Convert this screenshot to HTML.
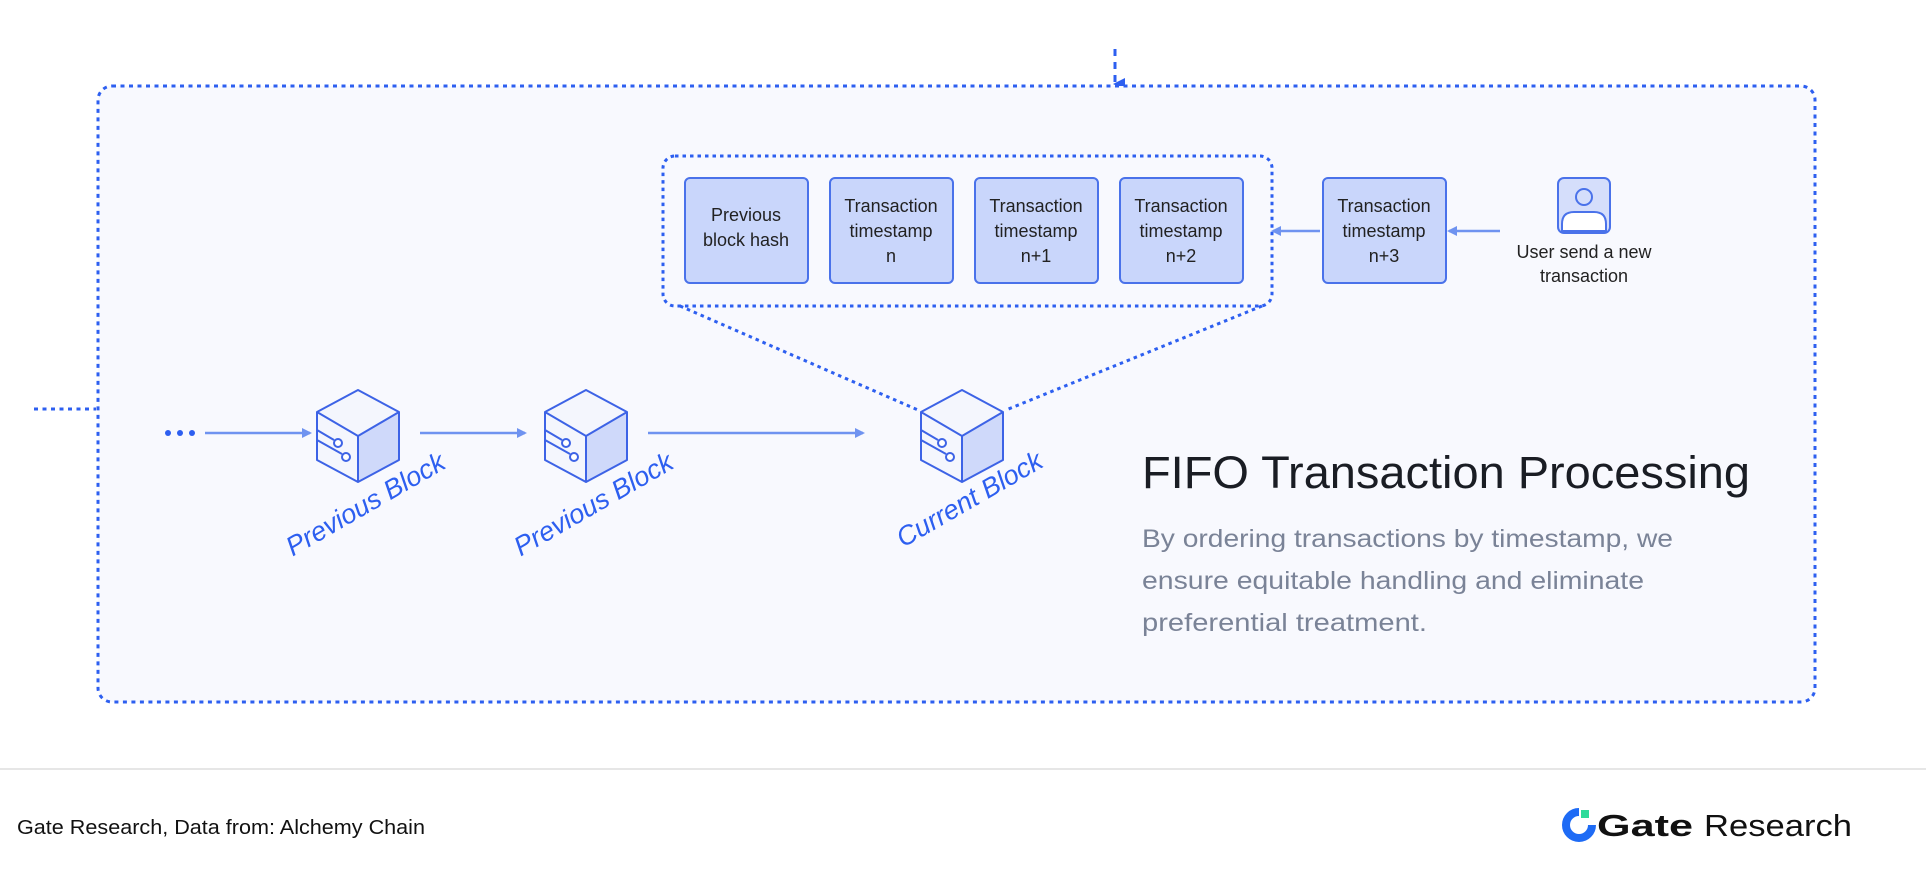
<!DOCTYPE html>
<html><head><meta charset="utf-8"><style>
html,body{margin:0;padding:0;background:#fff;}
svg{display:block;font-family:"Liberation Sans",sans-serif;}
</style></head><body>
<svg width="1926" height="884" viewBox="0 0 1926 884" xmlns="http://www.w3.org/2000/svg">
<defs>
<marker id="ah" markerWidth="10" markerHeight="10" refX="8" refY="5" orient="auto" markerUnits="userSpaceOnUse">
<path d="M0,0 L10,5 L0,10 z" fill="#6f93f0"/></marker>
<marker id="ahd" markerWidth="12" markerHeight="12" refX="6" refY="10" orient="auto" markerUnits="userSpaceOnUse">
<path d="M0,0 L12,0 L6,12 z" fill="#2d5ff0"/></marker>
<g id="cube">
<path d="M0,-46 L41,-24 L41,24 L0,46 L-41,24 L-41,-24 Z" fill="#f4f6fd"/>
<path d="M41,-24 L41,24 L0,46 L0,0 Z" fill="#cfd9fa"/>
<path d="M0,-46 L41,-24 L41,24 L0,46 L-41,24 L-41,-24 Z M-41,-24 L0,0 L41,-24 M0,0 L0,46" fill="none" stroke="#3d63e6" stroke-width="2" stroke-linejoin="round"/>
<path d="M-41,-6 L-24,4 M-41,4 L-16,18" stroke="#3d63e6" stroke-width="2" fill="none"/>
<circle cx="-20" cy="7" r="4" fill="#fff" stroke="#3d63e6" stroke-width="2"/>
<circle cx="-12" cy="21" r="4" fill="#fff" stroke="#3d63e6" stroke-width="2"/>
</g>
</defs>
<line x1="1115" y1="49" x2="1115" y2="84" stroke="#2d5ff0" stroke-width="3" stroke-dasharray="7,6" marker-end="url(#ahd)"/>
<rect x="98" y="86" width="1717" height="616" rx="14" fill="#f8f9fe" stroke="#2d5ff0" stroke-width="3" stroke-dasharray="4,4.5"/>
<line x1="34" y1="409" x2="96" y2="409" stroke="#2d5ff0" stroke-width="3" stroke-dasharray="4,4.5"/>
<rect x="663" y="156" width="609" height="150" rx="12" fill="none" stroke="#2d5ff0" stroke-width="3" stroke-dasharray="3.5,4"/>
<line x1="680" y1="306" x2="918" y2="410" stroke="#2d5ff0" stroke-width="3" stroke-dasharray="3.5,4"/>
<line x1="1262" y1="306" x2="1006" y2="410" stroke="#2d5ff0" stroke-width="3" stroke-dasharray="3.5,4"/>
<g fill="#c9d6fb" stroke="#4a72ea" stroke-width="2">
<rect x="685" y="178" width="123" height="105" rx="5"/>
<rect x="830" y="178" width="123" height="105" rx="5"/>
<rect x="975" y="178" width="123" height="105" rx="5"/>
<rect x="1120" y="178" width="123" height="105" rx="5"/>
<rect x="1323" y="178" width="123" height="105" rx="5"/>
</g>
<g font-size="18" fill="#222" text-anchor="middle">
<text x="746" y="221">Previous</text><text x="746" y="246">block hash</text>
<text x="891" y="212">Transaction</text><text x="891" y="237">timestamp</text><text x="891" y="262">n</text>
<text x="1036" y="212">Transaction</text><text x="1036" y="237">timestamp</text><text x="1036" y="262">n+1</text>
<text x="1181" y="212">Transaction</text><text x="1181" y="237">timestamp</text><text x="1181" y="262">n+2</text>
<text x="1384" y="212">Transaction</text><text x="1384" y="237">timestamp</text><text x="1384" y="262">n+3</text>
<text x="1584" y="258">User send a new</text><text x="1584" y="282">transaction</text>
</g>
<line x1="1320" y1="231" x2="1273" y2="231" stroke="#6f93f0" stroke-width="2.5" marker-end="url(#ah)"/>
<line x1="1500" y1="231" x2="1449" y2="231" stroke="#6f93f0" stroke-width="2.5" marker-end="url(#ah)"/>
<rect x="1558" y="178" width="52" height="55" rx="6" fill="#d5defb" stroke="#4a72ea" stroke-width="2"/>
<circle cx="1584" cy="197" r="8" fill="none" stroke="#4a72ea" stroke-width="2"/>
<path d="M1562,231 L1562,224 Q1562,212 1574,212 L1594,212 Q1606,212 1606,224 L1606,231 Z" fill="#fff" stroke="#4a72ea" stroke-width="2"/>
<circle cx="168" cy="433" r="3" fill="#2d5ff0"/><circle cx="180" cy="433" r="3" fill="#2d5ff0"/><circle cx="192" cy="433" r="3" fill="#2d5ff0"/>
<line x1="205" y1="433" x2="310" y2="433" stroke="#6f93f0" stroke-width="2.5" marker-end="url(#ah)"/>
<line x1="420" y1="433" x2="525" y2="433" stroke="#6f93f0" stroke-width="2.5" marker-end="url(#ah)"/>
<line x1="648" y1="433" x2="863" y2="433" stroke="#6f93f0" stroke-width="2.5" marker-end="url(#ah)"/>
<use href="#cube" x="358" y="436"/>
<use href="#cube" x="586" y="436"/>
<use href="#cube" x="962" y="436"/>
<g font-size="27" font-style="italic" fill="#2d5ff0" text-anchor="middle">
<text transform="translate(370,512) rotate(-30)">Previous Block</text>
<text transform="translate(598,512) rotate(-30)">Previous Block</text>
<text transform="translate(974,507) rotate(-30)">Current Block</text>
</g>
<text x="1142" y="488" font-size="45" fill="#1a1d24" textLength="608" lengthAdjust="spacingAndGlyphs">FIFO Transaction Processing</text>
<g font-size="25" fill="#7a8397">
<text x="1142" y="547" textLength="531" lengthAdjust="spacingAndGlyphs">By ordering transactions by timestamp, we</text>
<text x="1142" y="589" textLength="502" lengthAdjust="spacingAndGlyphs">ensure equitable handling and eliminate</text>
<text x="1142" y="631" textLength="285" lengthAdjust="spacingAndGlyphs">preferential treatment.</text>
</g>
<line x1="0" y1="769" x2="1926" y2="769" stroke="#e6e6e6" stroke-width="2"/>
<text x="17" y="834" font-size="20" fill="#111" textLength="408" lengthAdjust="spacingAndGlyphs">Gate Research, Data from:  Alchemy Chain</text>
<path d="M1592,825 A13,13 0 1 1 1579,812" fill="none" stroke="#1e6bf5" stroke-width="8"/>
<rect x="1581" y="810" width="8" height="8" fill="#2fdb9a"/>
<text x="1597" y="836" font-size="31" font-weight="bold" fill="#111" textLength="96" lengthAdjust="spacingAndGlyphs">Gate</text>
<text x="1704" y="836" font-size="31" fill="#111" textLength="148" lengthAdjust="spacingAndGlyphs">Research</text>
</svg>
</body></html>
